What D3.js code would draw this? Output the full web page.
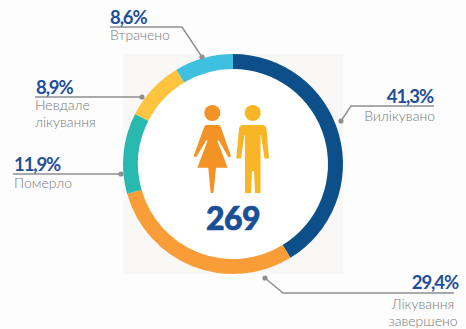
<!DOCTYPE html>
<html>
<head>
<meta charset="utf-8">
<script src="https://cdnjs.cloudflare.com/ajax/libs/d3/7.8.5/d3.min.js"></script>
<style>
  html, body { margin: 0; padding: 0; background: #fdfdfd; }
  svg { display: block; }
  text { font-family: Lato, "Open Sans", sans-serif; }
  .pct { font-size: 18.5px; font-weight: 700; fill: #1f4f9a; letter-spacing: -1.1px; }
  .name { font-size: 14px; font-weight: 300; fill: #77787b; }
</style>
</head>
<body>
<div id="chart"></div>
<script>
var categories = ["Вилікувано", "Лікування завершено", "Померло", "Невдале лікування", "Втрачено"];
var percents = [41.3, 29.4, 11.9, 8.9, 8.6];
var colors = ["#0d5089", "#f99d38", "#29b9ae", "#fdc43f", "#3fc0e0"];
var total = 269;

var width = 466, height = 329;
var cx = 233, cy = 164;

// callouts, same order as categories
var leaders = [
  {pts: [[434,106],[351,106],[341,121]], anchor: "end", x: 433, y: 102.5, lines: ["Вилікувано"], nx: 435, nanchor: "end", ly: 121},
  {pts: [[454,293],[283,293],[265,278]], anchor: "end", x: 458, y: 289, lines: ["Лікування", "завершено"], nx: 423, nanchor: "middle", ly: 308.5},
  {pts: [[13,174],[121,174]], anchor: "start", x: 14, y: 171, lines: ["Померло"], nx: 14, nanchor: "start", ly: 188},
  {pts: [[35,97],[142,97]], anchor: "start", x: 36, y: 94, lines: ["Невдале", "лікування"], nx: 35, nanchor: "start", ly: 110},
  {pts: [[110,27],[182,27],[202,57]], anchor: "start", x: 110, y: 23.5, lines: ["Втрачено"], nx: 110, nanchor: "start", ly: 40}
];

var svg = d3.select("#chart").append("svg")
    .attr("width", width)
    .attr("height", height);

svg.append("rect")
    .attr("x", 123).attr("y", 54)
    .attr("width", 220).attr("height", 220)
    .attr("fill", "#faf8f7");

var g = svg.append("g")
    .attr("transform", "translate(" + cx + "," + cy + ")");

g.append("circle").attr("r", 96).attr("fill", "#fff");

var pie = d3.pie().sort(null).value(function(d) { return d; });
var arc = d3.arc().innerRadius(95).outerRadius(110);

g.selectAll("path.slice")
  .data(pie(percents)).enter()
  .append("path")
  .attr("class", "slice")
  .attr("d", arc)
  .attr("fill", function(d, i) { return colors[i]; });

// callouts
var line = d3.line();
var call = svg.selectAll("g.call")
  .data(leaders).enter()
  .append("g")
  .attr("class", "call");

call.append("path")
  .attr("d", function(d) { return line(d.pts); })
  .attr("fill", "none")
  .attr("stroke", "#8d8f91")
  .attr("stroke-width", 1.4);

call.append("circle")
  .attr("cx", function(d) { return d.pts[d.pts.length - 1][0]; })
  .attr("cy", function(d) { return d.pts[d.pts.length - 1][1]; })
  .attr("r", 2.6)
  .attr("fill", "#8d8f91");

call.append("text")
  .attr("class", "pct")
  .attr("x", function(d) { return d.x; })
  .attr("y", function(d) { return d.y; })
  .attr("text-anchor", function(d) { return d.anchor; })
  .text(function(d, i) { return String(percents[i]).replace(".", ",") + "%"; });

call.each(function(d) {
  var sel = d3.select(this);
  d.lines.forEach(function(t, j) {
    sel.append("text")
      .attr("class", "name")
      .attr("x", d.nx)
      .attr("y", d.ly + j * 17)
      .attr("text-anchor", d.nanchor)
      .text(t);
  });
});

// icons
var woman = svg.append("g").attr("fill", "#f39325");
woman.append("circle").attr("cx", 212.3).attr("cy", 113).attr("r", 8);
woman.append("path").attr("d",
  "M206.5,125 L218.5,125 Q220,125 220.6,126.5 L231,156 L228.6,157.5 L218.5,140 L217.5,141 L227.6,167.7 L216,167.7 L213.5,193 L210.7,193 L208.3,167.7 L197.3,167.7 L207.5,141 L206.5,140 L196,157.5 L193.7,156 L204.3,126.5 Q205,125 206.5,125 Z");

var man = svg.append("g").attr("fill", "#f8b627");
man.append("circle").attr("cx", 252.7).attr("cy", 113).attr("r", 8);
man.append("path").attr("d",
  "M243,125 L262,125 Q266,125 266.5,129 L269,158.5 L264.5,158.5 L261,135 L260.5,135 L260.5,193 L255,193 L254,171 L252,171 L251,193 L245,193 L245,135 L244.5,135 L241,158.5 L236.3,158.5 L239,129 Q239.5,125 243,125 Z");

svg.append("text")
  .attr("x", cx)
  .attr("y", 230)
  .attr("text-anchor", "middle")
  .attr("font-size", 32)
  .attr("font-weight", 900)
  .attr("fill", "#1a4f96")
  .attr("stroke", "#1a4f96")
  .attr("stroke-width", 0.7)
  .attr("letter-spacing", -0.6)
  .text(total);
</script>
</body>
</html>
